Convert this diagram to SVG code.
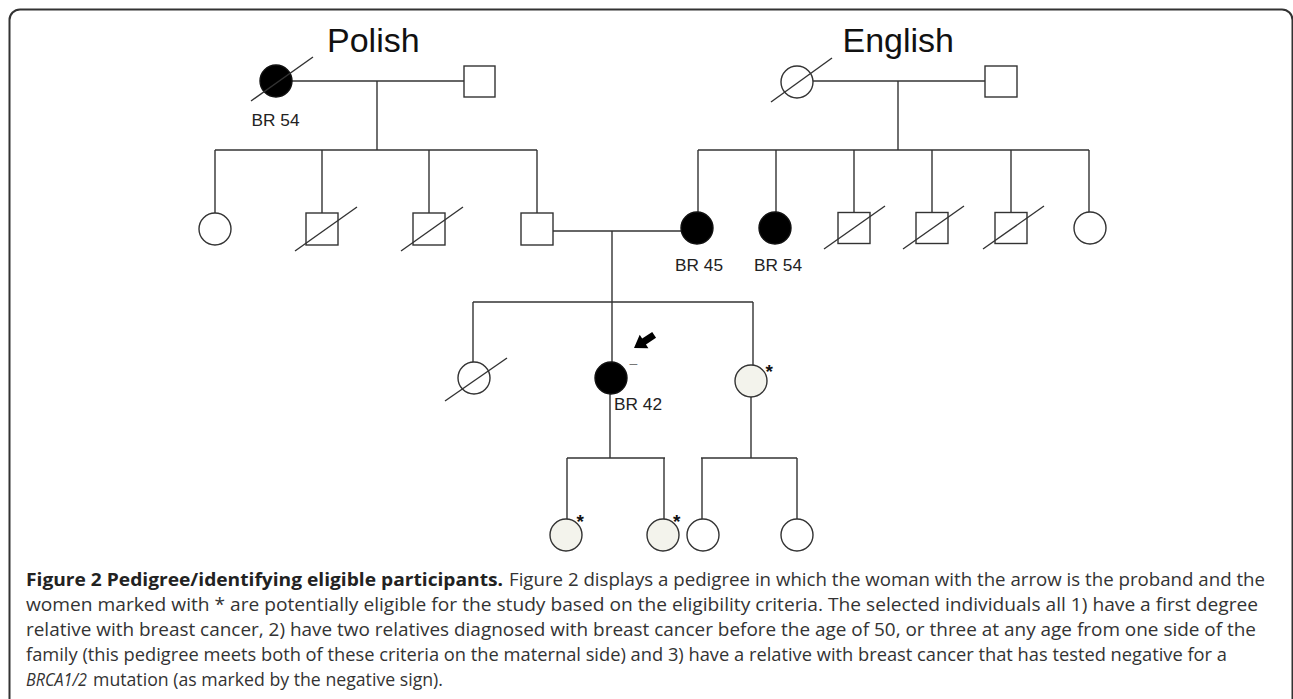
<svg xmlns="http://www.w3.org/2000/svg" width="1293" height="699" viewBox="0 0 1293 699">
<style>
.ln{stroke:#333;stroke-width:1.4;fill:none}
.sh{stroke:#333;stroke-width:1.4;fill:#fff}
.aff{stroke:#111;stroke-width:1.4;fill:#000}
.cand{stroke:#333;stroke-width:1.4;fill:#f3f3ec}
.dx{stroke:#333;stroke-width:1.4}
.lbl{font-family:"Liberation Sans",Arial,sans-serif;font-size:16px;fill:#222}
.title{font-family:"Liberation Sans",Arial,sans-serif;font-size:34px;fill:#111}
.ast{font-family:"Liberation Sans",Arial,sans-serif;font-size:19px;font-weight:bold;fill:#111}
.cap{font-family:"Open Sans","Noto Sans",sans-serif;font-size:17.5px;fill:#333}
.capb{font-family:"Open Sans","Noto Sans",sans-serif;font-size:17.5px;font-weight:bold;fill:#222}
</style>
<rect width="1293" height="699" fill="#fff"/>
<path d="M9.5 720 V20 A10.5 10.5 0 0 1 20 9.5 H1282 A10.5 10.5 0 0 1 1292.5 20 V720" fill="none" stroke="#333" stroke-width="2"/>

<text class="title" x="327" y="52">Polish</text>
<text class="title" x="842.5" y="52">English</text>

<g id="connectors">
<line class="ln" x1="292" y1="81" x2="464" y2="81"/>
<line class="ln" x1="377" y1="81" x2="377" y2="150"/>
<line class="ln" x1="215" y1="150" x2="537" y2="150"/>
<line class="ln" x1="215" y1="150" x2="215" y2="213"/>
<line class="ln" x1="322" y1="150" x2="322" y2="213"/>
<line class="ln" x1="429" y1="150" x2="429" y2="213"/>
<line class="ln" x1="537" y1="150" x2="537" y2="213"/>
<line class="ln" x1="813" y1="81" x2="985" y2="81"/>
<line class="ln" x1="898" y1="81" x2="898" y2="150"/>
<line class="ln" x1="698" y1="150" x2="1089" y2="150"/>
<line class="ln" x1="698" y1="150" x2="698" y2="212"/>
<line class="ln" x1="776" y1="150" x2="776" y2="212"/>
<line class="ln" x1="854" y1="150" x2="854" y2="213"/>
<line class="ln" x1="932" y1="150" x2="932" y2="213"/>
<line class="ln" x1="1011" y1="150" x2="1011" y2="213"/>
<line class="ln" x1="1089" y1="150" x2="1089" y2="212"/>
<line class="ln" x1="553" y1="231" x2="681" y2="231"/>
<line class="ln" x1="612" y1="231" x2="612" y2="302"/>
<line class="ln" x1="473" y1="302" x2="753" y2="302"/>
<line class="ln" x1="473" y1="302" x2="473" y2="362"/>
<line class="ln" x1="612" y1="302" x2="612" y2="362"/>
<line class="ln" x1="753" y1="302" x2="753" y2="365"/>
<line class="ln" x1="610" y1="394" x2="610" y2="458"/>
<line class="ln" x1="751" y1="397" x2="751" y2="458"/>
<line class="ln" x1="567" y1="458" x2="665" y2="458"/>
<line class="ln" x1="567" y1="458" x2="567" y2="519"/>
<line class="ln" x1="664" y1="458" x2="664" y2="519"/>
<line class="ln" x1="701" y1="458" x2="797" y2="458"/>
<line class="ln" x1="702" y1="458" x2="702" y2="519"/>
<line class="ln" x1="797" y1="458" x2="797" y2="519"/>
</g>

<g id="polish-grandmother">
<circle class="aff" cx="276" cy="81" r="16"/>
<line class="dx" x1="251" y1="101" x2="313" y2="57"/>
<text class="lbl" x="251.5" y="126" textLength="48" lengthAdjust="spacingAndGlyphs">BR 54</text>
</g>
<g id="polish-grandfather"><rect class="sh" x="464" y="66" width="31" height="31"/></g>
<g id="p-daughter"><circle class="sh" cx="215" cy="229" r="16"/></g>
<g id="p-son1"><rect class="sh" x="306" y="213" width="32" height="32"/><line class="dx" x1="295" y1="251" x2="357" y2="207"/></g>
<g id="p-son2"><rect class="sh" x="413" y="213" width="32" height="32"/><line class="dx" x1="401" y1="251" x2="463" y2="207"/></g>
<g id="father"><rect class="sh" x="521" y="213" width="32" height="32"/></g>

<g id="english-grandmother">
<circle class="sh" cx="797" cy="82" r="16"/>
<line class="dx" x1="771" y1="102" x2="832" y2="58"/>
</g>
<g id="english-grandfather"><rect class="sh" x="985" y="66" width="32" height="31"/></g>
<g id="mother">
<circle class="aff" cx="697" cy="228" r="16"/>
<text class="lbl" x="675" y="271" textLength="48" lengthAdjust="spacingAndGlyphs">BR 45</text>
</g>
<g id="aunt">
<circle class="aff" cx="775" cy="228" r="16"/>
<text class="lbl" x="754" y="271" textLength="48" lengthAdjust="spacingAndGlyphs">BR 54</text>
</g>
<g id="e-son1"><rect class="sh" x="838" y="212.5" width="32" height="31"/><line class="dx" x1="824" y1="249" x2="885" y2="206"/></g>
<g id="e-son2"><rect class="sh" x="916" y="212.5" width="32" height="31"/><line class="dx" x1="903" y1="249" x2="964" y2="206"/></g>
<g id="e-son3"><rect class="sh" x="995" y="212.5" width="32" height="31"/><line class="dx" x1="983" y1="249" x2="1044" y2="206"/></g>
<g id="e-daughter"><circle class="sh" cx="1090" cy="228" r="16"/></g>

<g id="sister-deceased">
<circle class="sh" cx="474" cy="378" r="16"/>
<line class="dx" x1="445" y1="401" x2="507" y2="358"/>
</g>
<g id="proband">
<circle class="aff" cx="611" cy="378" r="16"/>
<polygon points="0,0 -12,-8 -12,-3.5 -24,-3.5 -24,3.5 -12,3.5 -12,8" fill="#000" transform="translate(634,348) rotate(147)"/>
<text x="629.5" y="367.5" font-family="Liberation Sans,Arial,sans-serif" font-size="14" fill="#777">–</text>
<text class="lbl" x="614" y="410" textLength="48" lengthAdjust="spacingAndGlyphs">BR 42</text>
</g>
<g id="sister-eligible">
<circle class="cand" cx="751" cy="381" r="16"/>
<text class="ast" x="765.5" y="377.5">*</text>
</g>
<g id="niece1">
<circle class="cand" cx="566" cy="535" r="16"/>
<text class="ast" x="576.5" y="527.5">*</text>
</g>
<g id="niece2">
<circle class="cand" cx="663" cy="535" r="16"/>
<text class="ast" x="673" y="527.5">*</text>
</g>
<g id="niece3"><circle class="sh" cx="703" cy="535" r="16"/></g>
<g id="niece4"><circle class="sh" cx="797" cy="535" r="16"/></g>

<g id="caption">
<text class="capb" x="26" y="586" textLength="477" lengthAdjust="spacingAndGlyphs">Figure 2 Pedigree/identifying eligible participants.</text>
<text class="cap" x="509" y="586" textLength="756" lengthAdjust="spacingAndGlyphs">Figure 2 displays a pedigree in which the woman with the arrow is the proband and the</text>
<text class="cap" x="26" y="611" textLength="1232" lengthAdjust="spacingAndGlyphs">women marked with * are potentially eligible for the study based on the eligibility criteria. The selected individuals all 1) have a first degree</text>
<text class="cap" x="26" y="636" textLength="1230" lengthAdjust="spacingAndGlyphs">relative with breast cancer, 2) have two relatives diagnosed with breast cancer before the age of 50, or three at any age from one side of the</text>
<text class="cap" x="26" y="661" textLength="1201" lengthAdjust="spacingAndGlyphs">family (this pedigree meets both of these criteria on the maternal side) and 3) have a relative with breast cancer that has tested negative for a</text>
<text class="cap" x="26" y="686" textLength="61" lengthAdjust="spacingAndGlyphs" font-style="italic">BRCA1/2</text>
<text class="cap" x="93" y="686" textLength="350" lengthAdjust="spacingAndGlyphs">mutation (as marked by the negative sign).</text>
</g>
</svg>
